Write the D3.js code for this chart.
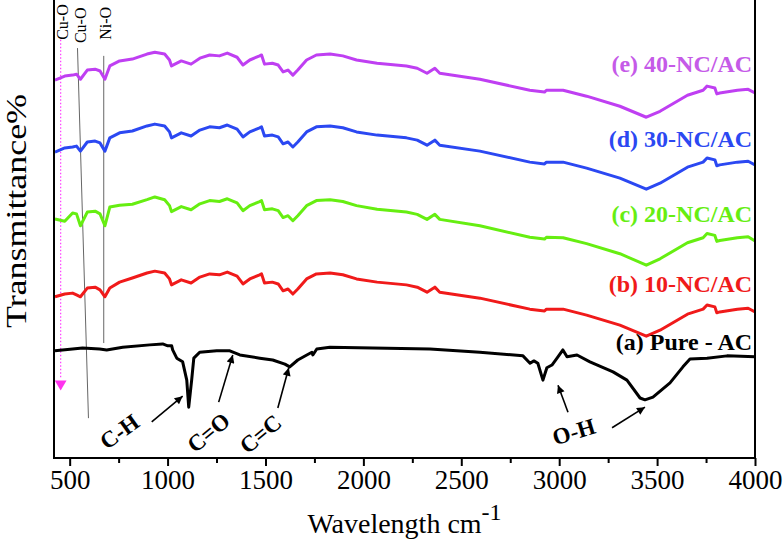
<!DOCTYPE html>
<html><head><meta charset="utf-8">
<script src="https://cdn.jsdelivr.net/npm/d3@7"></script>
<style>html,body{margin:0;padding:0;background:#fff;}svg{display:block;}</style>
</head><body><svg id="chart" width="784" height="542"></svg>
<script>
// ---- data ----
const wnNC = [425,475,515,535,555,590,630,655,680,705,755,820,895,935,985,1010,1020,1070,1120,1165,1215,1265,1305,1355,1385,1420,1470,1480,1495,1535,1565,1590,1615,1640,1665,1710,1760,1830,1895,1965,2070,2220,2275,2325,2365,2390,2595,2850,2925,2935,3020,3140,3310,3445,3515,3655,3735,3755,3795,3805,3820,3910,3965,4000];
const tE = [82.5,83.4,83.6,83.8,82.7,84.7,84.9,84.5,82.7,85.6,86.7,87.1,88.2,88.6,88.2,86.9,85.6,86.7,86.0,87.3,88.0,87.8,88.4,87.5,85.8,86.9,87.8,88.0,86.0,86.2,85.8,84.3,84.7,83.6,84.7,86.9,88.0,88.2,87.8,86.9,86.2,85.6,85.1,84.0,85.1,84.0,82.7,80.3,79.9,80.3,80.3,79.0,76.8,74.4,75.7,79.2,80.3,81.2,80.8,79.5,79.7,80.3,80.5,79.7];
const tD = [66.8,67.7,67.9,68.1,67.0,69.0,69.2,68.8,67.0,69.9,71.0,71.4,72.5,72.9,72.5,71.2,69.9,71.0,70.3,71.6,72.3,72.1,72.7,71.8,70.1,71.2,72.1,72.3,70.3,70.5,70.1,68.6,69.0,67.9,69.0,71.2,72.3,72.5,72.1,71.2,70.5,69.9,69.4,68.3,69.4,68.3,67.0,64.6,64.2,64.6,64.6,63.3,61.1,58.7,60.0,63.5,64.6,65.5,65.1,63.8,64.0,64.6,64.8,64.0];
const tC = [52.2,51.7,53.5,53.3,50.7,53.7,53.9,53.3,50.7,54.8,55.2,55.4,56.4,57.0,56.4,55.1,53.8,54.9,54.2,55.5,56.2,56.0,56.6,55.7,54.0,55.1,56.0,56.2,54.2,54.4,54.0,52.5,52.9,51.8,52.9,55.1,56.2,56.4,56.0,55.1,54.3,53.7,53.2,52.1,53.2,52.1,50.7,48.2,47.8,48.2,48.1,46.8,44.6,42.1,43.5,47.0,48.1,49.0,48.6,47.3,47.5,48.1,48.3,47.4];
const tB = [35.2,35.8,36.0,35.6,35.2,37.1,37.3,36.7,35.2,37.1,38.4,39.3,40.4,40.8,40.4,39.1,37.8,38.9,38.2,39.5,40.2,40.0,40.6,39.7,38.0,39.1,40.0,40.2,38.2,38.4,38.0,36.5,36.9,35.8,36.9,39.1,40.2,40.4,40.0,39.1,38.4,37.8,37.3,36.2,37.3,36.2,34.9,32.5,32.1,32.5,32.5,31.2,29.0,26.6,27.9,31.4,32.5,33.4,33.0,31.7,31.9,32.5,32.7,31.9];
const wnA = [425,566,653,689,771,909,975,1001,1021,1026,1047,1077,1098,1108,1123,1134,1164,1251,1318,1369,1471,1537,1599,1624,1665,1711,1737,1742,1762,1829,2048,2340,2595,2815,2851,2871,2891,2917,2937,2963,2989,3019,3040,3091,3157,3275,3346,3413,3438,3479,3566,3632,3668,3755,3857,4000];
const tA = [23.4,24.0,23.8,23.6,24.2,24.7,24.9,24.5,24.5,23.6,21.8,21.0,17.0,11.1,17.0,21.8,23.1,23.4,23.4,22.5,21.8,21.4,20.5,19.9,21.4,22.5,23.1,22.5,23.8,24.2,24.0,23.8,23.1,22.3,20.7,21.2,20.7,17.0,19.7,20.3,21.8,23.6,22.1,22.5,21.0,18.8,17.0,13.1,12.7,13.3,16.4,19.9,21.6,21.8,22.3,22.1];

const seriesNames = ["(e) 40-NC/AC","(d) 30-NC/AC","(c) 20-NC/AC","(b) 10-NC/AC","(a) Pure - AC"];
const seriesColors = ["#bf3ff2","#2b48f2","#66ee11","#f01a1a","#000000"];
const labelY = [84.3, 67.9, 51.5, 36.2, 23.6];

const xTicks = [500,1000,1500,2000,2500,3000,3500,4000];
const xMinor = [750,1250,1750,2250,2750,3250,3750];

// band marker lines [x1,y1,x2,y2] in cm-1 / %T
const bandLines = [
  {x1:540, y1:89.5, x2:596, y2:8.7},
  {x1:674, y1:87.8, x2:674, y2:25.1}
];
const bandLabels = [
  {t:"Cu-O", x:462, y:91.3},
  {t:"Cu-O", x:555, y:90.6},
  {t:"Ni-O", x:683, y:91.3}
];
const groupLabels = [
  {t:"C-H", x:755, y:5.7, a:-36},
  {t:"C=O", x:1210, y:5.5, a:-40},
  {t:"C=C", x:1476, y:5.2, a:-40},
  {t:"O-H", x:3075, y:5.7, a:-17}
];
const arrows = [
  {x1:919, y1:7.9, x2:1077, y2:13.5},
  {x1:1261, y1:12.2, x2:1333, y2:22.5},
  {x1:1563, y1:10.9, x2:1619, y2:19.7},
  {x1:3045, y1:10.0, x2:2994, y2:15.9},
  {x1:3270, y1:6.6, x2:3438, y2:11.1}
];

// ---- chart ----
const svg = d3.select("#chart");
const L = 54, R = 755, T = 0, B = 458;
const x = d3.scaleLinear().domain([420,4000]).range([L,R]);
const y = d3.scaleLinear().domain([0,100]).range([B,T]);
const serif = "'Liberation Serif','Times New Roman',serif";

svg.append("defs").append("clipPath").attr("id","clip")
  .append("rect").attr("x",L).attr("y",T).attr("width",R-L).attr("height",B-T);
const defs = svg.select("defs");
defs.append("marker").attr("id","ah").attr("viewBox","0 0 10 10").attr("refX",10).attr("refY",5)
  .attr("markerWidth",11).attr("markerHeight",8).attr("markerUnits","userSpaceOnUse").attr("orient","auto")
  .append("path").attr("d","M0,0L10,5L0,10z").attr("fill","#000");

// magenta dotted line with triangle
const g = svg.append("g").attr("clip-path","url(#clip)");
g.append("line").attr("x1",x(454)).attr("x2",x(454)).attr("y1",y(91.3)).attr("y2",y(17.5))
  .attr("stroke","#ff3cff").attr("stroke-width",1.2).attr("stroke-dasharray","1.5,2");
svg.append("path").attr("d",d3.symbol(d3.symbolTriangle,60)())
  .attr("transform",`translate(${x(454)},${y(16.2)}) rotate(180)`).attr("fill","#ff33ee");

bandLines.forEach(d=>{
  g.append("line").attr("x1",x(d.x1)).attr("y1",y(d.y1)).attr("x2",x(d.x2)).attr("y2",y(d.y2))
   .attr("stroke","#666").attr("stroke-width",1);
});

const line = d3.line().x(d=>x(d[0])).y(d=>y(d[1]));
const allSeries = [tE,tD,tC,tB].map(v=>d3.zip(wnNC,v)).concat([d3.zip(wnA,tA)]);
allSeries.forEach((s,i)=>{
  g.append("path").datum(s).attr("d",line).attr("fill","none")
   .attr("stroke",seriesColors[i]).attr("stroke-width",3).attr("stroke-linejoin","round");
});

// series labels
seriesNames.forEach((n,i)=>{
  svg.append("text").attr("x",x(3985)).attr("y",y(labelY[i])).attr("text-anchor","end")
   .attr("font-family",serif).attr("font-weight","bold").attr("font-size",24)
   .attr("fill",i===0?"#c55ae8":seriesColors[i]).text(n);
});

// band labels
bandLabels.forEach(d=>{
  svg.append("text").attr("transform",`translate(${x(d.x)},${y(d.y)}) rotate(-90)`)
   .attr("dominant-baseline","central").attr("font-family",serif).attr("font-size",16)
   .attr("fill","#000").text(d.t);
});

// group labels and arrows
groupLabels.forEach(d=>{
  svg.append("text").attr("transform",`translate(${x(d.x)},${y(d.y)}) rotate(${d.a})`)
   .attr("text-anchor","middle").attr("dominant-baseline","central")
   .attr("font-family",serif).attr("font-weight","bold").attr("font-size",23).text(d.t);
});
arrows.forEach(d=>{
  svg.append("line").attr("x1",x(d.x1)).attr("y1",y(d.y1)).attr("x2",x(d.x2)).attr("y2",y(d.y2))
   .attr("stroke","#000").attr("stroke-width",1.6).attr("marker-end","url(#ah)");
});

// axes
const xa = svg.append("g").attr("transform",`translate(0,${B})`)
  .call(d3.axisBottom(x).tickValues(xTicks).tickSize(8).tickPadding(4).tickFormat(d3.format("d")));
xa.select(".domain").remove();
xa.selectAll(".tick line").attr("stroke-width",2);
xa.selectAll("text").attr("font-family",serif).attr("font-size",27).attr("fill","#000");
const xm = svg.append("g").attr("transform",`translate(0,${B})`)
  .call(d3.axisBottom(x).tickValues(xMinor).tickSize(5).tickFormat(""));
xm.select(".domain").remove();
xm.selectAll(".tick line").attr("stroke-width",2);

svg.append("line").attr("x1",L).attr("x2",R+1).attr("y1",B).attr("y2",B).attr("stroke","#000").attr("stroke-width",2);
svg.append("line").attr("x1",L).attr("x2",L).attr("y1",T).attr("y2",B+1).attr("stroke","#000").attr("stroke-width",2);
svg.append("line").attr("x1",R).attr("x2",R).attr("y1",T).attr("y2",B+1).attr("stroke","#000").attr("stroke-width",2);

// axis titles
const xt = svg.append("text").attr("x",(L+R)/2).attr("y",533).attr("text-anchor","middle")
  .attr("font-family",serif).attr("font-size",28).attr("fill","#000");
xt.append("tspan").text("Wavelength cm");
xt.append("tspan").attr("dy",-13).attr("font-size",24).text("-1");

svg.append("text").attr("transform",`translate(26,211) rotate(-90)`)
  .attr("text-anchor","middle").attr("font-family",serif).attr("font-size",29)
  .attr("textLength",234).attr("lengthAdjust","spacingAndGlyphs")
  .attr("fill","#000").text("Transmittance%");
</script></body></html>
